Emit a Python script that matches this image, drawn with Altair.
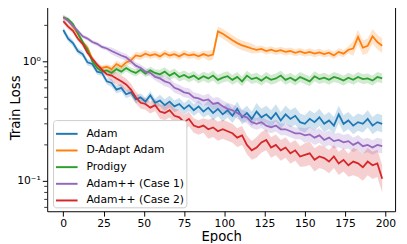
import altair as alt
import pandas as pd

epochs = list(range(0, 199, 3))

series_names = ["Adam", "D-Adapt Adam", "Prodigy", "Adam++ (Case 1)", "Adam++ (Case 2)"]
series_colors = ["#1f77b4", "#ff7f0e", "#2ca02c", "#9467bd", "#d62728"]

adam = [1.83, 1.55, 1.42, 1.22, 1.15, 0.98, 0.95, 0.82, 0.80, 0.68, 0.66, 0.58, 0.60, 0.53, 0.55, 0.48, 0.50,
        0.46, 0.52, 0.45, 0.47, 0.43, 0.46, 0.42, 0.44, 0.40, 0.43, 0.39, 0.42, 0.38, 0.41, 0.37, 0.40, 0.36,
        0.39, 0.35, 0.40, 0.34, 0.37, 0.33, 0.38, 0.34, 0.36, 0.33, 0.37, 0.32, 0.36, 0.33, 0.35, 0.31, 0.30,
        0.33, 0.31, 0.34, 0.30, 0.32, 0.29, 0.36, 0.30, 0.32, 0.29, 0.31, 0.30, 0.33, 0.29, 0.31, 0.30]
dadapt = [2.34, 2.20, 1.95, 1.70, 1.45, 1.30, 1.05, 0.92, 0.88, 0.90, 0.86, 0.95, 0.90, 0.98, 1.02, 1.12, 1.10,
          1.16, 1.12, 1.15, 1.10, 1.17, 1.12, 1.15, 1.10, 1.16, 1.12, 1.14, 1.10, 1.15, 1.11, 1.14, 1.78, 1.70,
          1.60, 1.50, 1.42, 1.36, 1.32, 1.28, 1.25, 1.27, 1.22, 1.25, 1.21, 1.24, 1.20, 1.22, 1.18, 1.21, 1.17,
          1.20, 1.16, 1.19, 1.15, 1.18, 1.12, 1.20, 1.16, 1.25, 1.28, 1.60, 1.30, 1.35, 1.62, 1.45, 1.35]
prodigy = [2.34, 2.25, 2.05, 1.72, 1.45, 1.25, 1.00, 0.88, 0.82, 0.84, 0.80, 0.86, 0.82, 0.88, 0.83, 0.80, 0.85,
           0.79, 0.84, 0.80, 0.78, 0.82, 0.76, 0.80, 0.74, 0.77, 0.73, 0.76, 0.71, 0.75, 0.72, 0.76, 0.70, 0.73,
           0.75, 0.70, 0.74, 0.68, 0.76, 0.71, 0.73, 0.69, 0.74, 0.70, 0.72, 0.76, 0.70, 0.73, 0.69, 0.74, 0.71,
           0.68, 0.75, 0.71, 0.73, 0.70, 0.74, 0.72, 0.69, 0.73, 0.70, 0.74, 0.71, 0.72, 0.69, 0.74, 0.72]
case1 = [2.34, 2.18, 1.98, 1.80, 1.62, 1.55, 1.45, 1.40, 1.32, 1.28, 1.22, 1.17, 1.12, 1.08, 1.00, 0.92, 0.88,
         0.82, 0.80, 0.74, 0.72, 0.68, 0.66, 0.60, 0.58, 0.55, 0.54, 0.50, 0.49, 0.47, 0.48, 0.44, 0.45, 0.42,
         0.40, 0.39, 0.37, 0.35, 0.34, 0.31, 0.30, 0.31, 0.29, 0.28, 0.29, 0.27, 0.27, 0.26, 0.25, 0.25, 0.24,
         0.245, 0.23, 0.24, 0.22, 0.23, 0.215, 0.22, 0.21, 0.215, 0.20, 0.21, 0.195, 0.20, 0.19, 0.20, 0.195]
case2 = [2.17, 1.95, 1.80, 1.55, 1.40, 1.18, 1.05, 0.94, 0.85, 0.78, 0.76, 0.72, 0.68, 0.64, 0.58, 0.50, 0.45,
         0.44, 0.41, 0.43, 0.38, 0.37, 0.39, 0.35, 0.34, 0.31, 0.33, 0.29, 0.28, 0.29, 0.27, 0.28, 0.26, 0.27,
         0.26, 0.25, 0.23, 0.24, 0.20, 0.18, 0.19, 0.21, 0.22, 0.19, 0.20, 0.18, 0.19, 0.17, 0.18, 0.16, 0.165,
         0.17, 0.15, 0.16, 0.155, 0.145, 0.16, 0.14, 0.15, 0.135, 0.145, 0.14, 0.13, 0.145, 0.135, 0.14, 0.104]

# band spread factors, one per 30-epoch segment
adam_band = [1.06, 1.08, 1.12, 1.15, 1.18, 1.18, 1.18]
dadapt_band = [1.05, 1.07, 1.07, 1.10, 1.07, 1.07, 1.15]
prodigy_band = [1.04, 1.07, 1.09, 1.10, 1.10, 1.10, 1.10]
case1_band = [1.04, 1.07, 1.10, 1.12, 1.12, 1.15, 1.15]
case2_band = [1.05, 1.12, 1.15, 1.20, 1.22, 1.25, 1.30]

major_ticks = [0.1, 1]
minor_ticks = [0.06, 0.07, 0.08, 0.09, 0.2, 0.3, 0.4, 0.5, 0.6, 0.7, 0.8, 0.9, 2]
x_ticks = [0, 25, 50, 75, 100, 125, 150, 175, 200]

rows = []
for name, vals, band in zip(series_names,
                            [adam, dadapt, prodigy, case1, case2],
                            [adam_band, dadapt_band, prodigy_band, case1_band, case2_band]):
    for e, v in zip(epochs, vals):
        f = band[e // 30]
        rows.append({"epoch": e, "series": name, "value": v, "lo": v / f, "hi": v * f})
df = pd.DataFrame(rows)

font = "DejaVu Sans"
xscale = alt.Scale(domain=[-10, 206], nice=False, zero=False)
yscale = alt.Scale(type="log", domain=[0.0557, 2.99], nice=False)
cscale = alt.Scale(domain=series_names, range=series_colors)

legend = alt.Legend(title=None, orient="none", legendX=6, legendY=118,
                    symbolType="stroke", symbolSize=484, symbolStrokeWidth=2, symbolOpacity=1,
                    labelFontSize=11, labelFont=font, labelColor="#000",
                    labelOffset=8, rowPadding=0, padding=2,
                    fillColor="white", strokeColor="#cccccc", cornerRadius=3,
                    labelLimit=300)

xaxis = alt.Axis(values=x_ticks, title="Epoch", labelFontSize=11, titleFontSize=13.5, labelFont=font,
                 titleFont=font, titleFontWeight="normal", grid=False, domain=False, tickSize=5,
                 tickColor="#000", labelColor="#000", titleColor="#000", labelPadding=2, titlePadding=1,
                 labelAngle=0)
yaxis = alt.Axis(values=major_ticks, orient="left", title="Train Loss",
                 labelExpr="datum.value == 1 ? '10⁰' : '10⁻¹'",
                 tickSize=5,
                 labelFontSize=11, titleFontSize=13.5, labelFont=font, titleFont=font,
                 titleFontWeight="normal", grid=False, domain=False, tickColor="#000",
                 labelColor="#000", titleColor="#000", labelPadding=2,
                 titleX=-32, titleY=105, titleAngle=270, titleAlign="center", titleBaseline="middle")

base = alt.Chart(df)
band = base.mark_area(opacity=0.22, interpolate="linear").encode(
    x=alt.X("epoch:Q", scale=xscale, axis=xaxis),
    y=alt.Y("lo:Q", scale=yscale, axis=yaxis),
    y2="hi:Q",
    color=alt.Color("series:N", scale=cscale, sort=series_names, legend=legend),
    detail="series:N",
)
line = base.mark_line(strokeWidth=1.8).encode(
    x=alt.X("epoch:Q", scale=xscale),
    y=alt.Y("value:Q", scale=yscale),
    color=alt.Color("series:N", scale=cscale, sort=series_names, legend=legend),
)
minor = alt.Chart(pd.DataFrame({"v": minor_ticks})).mark_rule(color="#000", strokeWidth=0.8).encode(
    y=alt.Y("v:Q", scale=yscale),
    x=alt.value(-3),
    x2=alt.value(0),
)

chart = alt.layer(band, line, minor).properties(
    width=355, height=211,
    autosize=alt.AutoSizeParams(type="none"),
    padding={"left": 40, "top": -6, "right": 4, "bottom": 30},
).configure(background="white").configure_view(stroke="#000", strokeWidth=1)

chart.save("out.html", embed_options={"renderer": "svg", "actions": False})
